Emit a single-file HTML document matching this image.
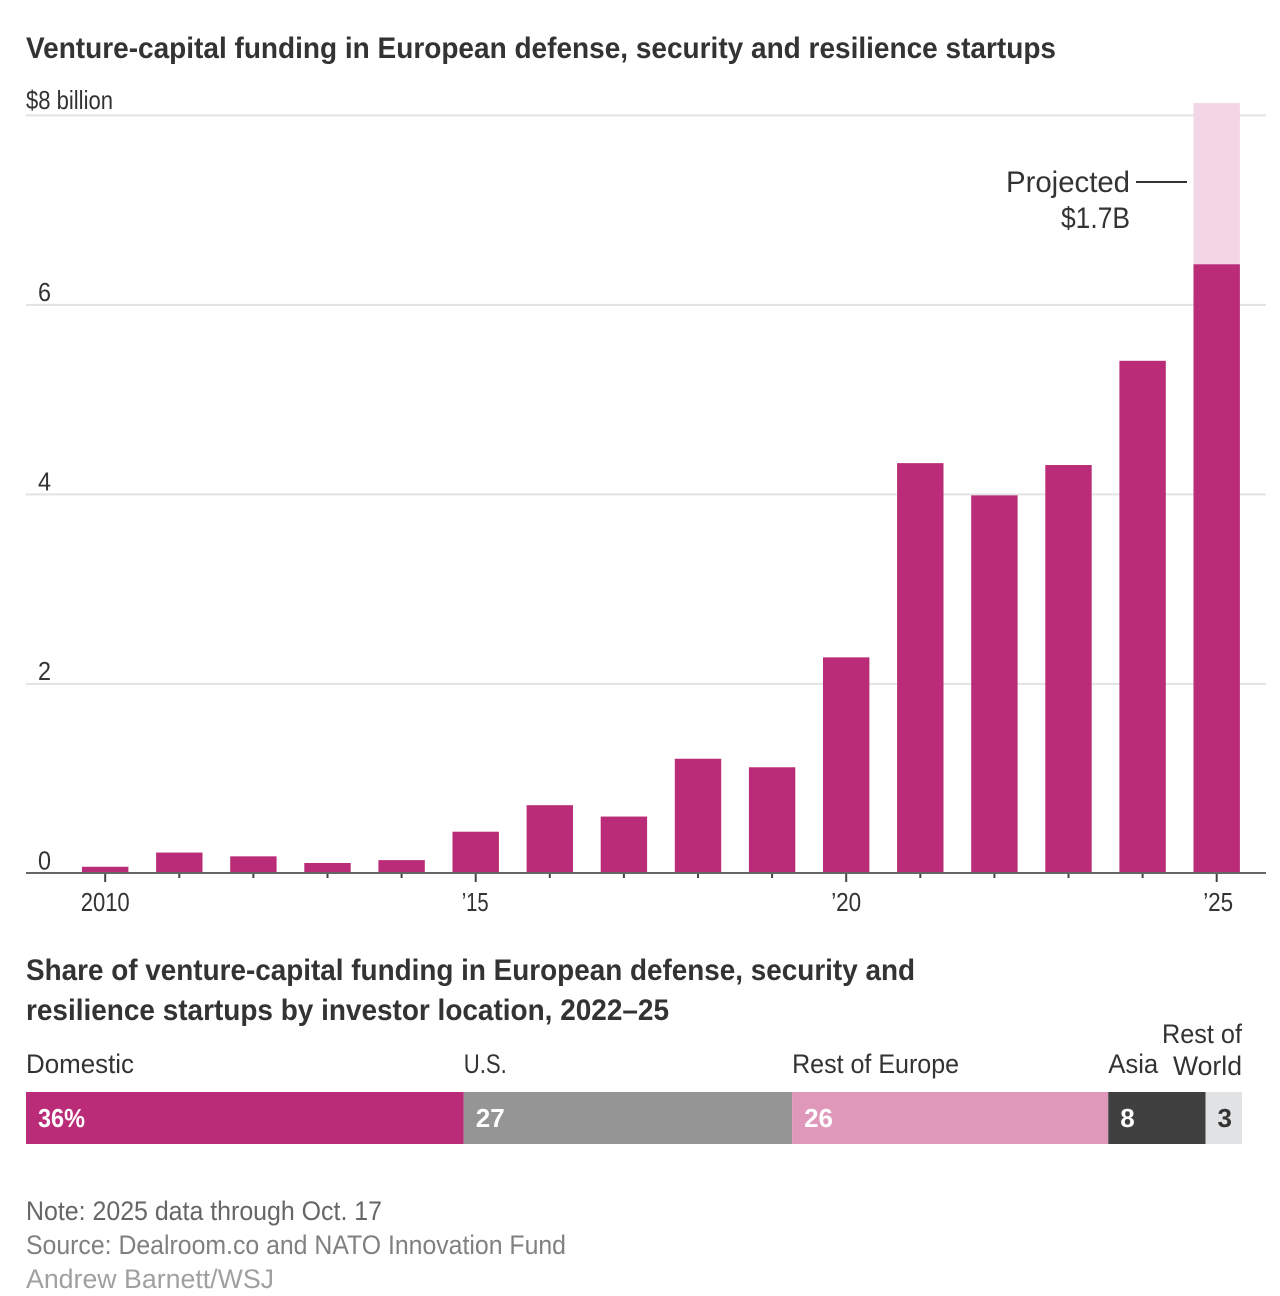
<!DOCTYPE html>
<html lang="en">
<head>
<meta charset="utf-8">
<title>Venture-capital funding in European defense, security and resilience startups</title>
<style>
html,body{margin:0;padding:0;background:#fff;}
svg{display:block;}
text{font-family:"Liberation Sans",sans-serif;}
</style>
</head>
<body>
<svg id="chart" width="1280" height="1296" viewBox="0 0 1280 1296" xmlns="http://www.w3.org/2000/svg">
  <rect x="0" y="0" width="1280" height="1296" fill="#ffffff"/>
  <text x="26" y="58" font-size="30" font-weight="700" fill="#333333" textLength="1030" lengthAdjust="spacingAndGlyphs">Venture-capital funding in European defense, security and resilience startups</text>
  <g id="grid"></g>
  <g id="bars"></g>
  <g id="xaxis"></g>
  <g id="yaxis"></g>
  <text x="1130" y="192" text-anchor="end" font-size="30" fill="#333333" textLength="124" lengthAdjust="spacingAndGlyphs">Projected</text>
  <text x="1130" y="228" text-anchor="end" font-size="30" fill="#333333" textLength="69" lengthAdjust="spacingAndGlyphs">$1.7B</text>
  <line x1="1136" x2="1187" y1="182" y2="182" stroke="#333333" stroke-width="2"/>
  <text x="26" y="980" font-size="30" font-weight="700" fill="#333333" textLength="889" lengthAdjust="spacingAndGlyphs">Share of venture-capital funding in European defense, security and</text>
  <text x="26" y="1020" font-size="30" font-weight="700" fill="#333333" textLength="643" lengthAdjust="spacingAndGlyphs">resilience startups by investor location, 2022–25</text>
  <g id="share"></g>
  <text x="26" y="1220" font-size="27" fill="#666666" textLength="356" lengthAdjust="spacingAndGlyphs">Note: 2025 data through Oct. 17</text>
  <text x="26" y="1254" font-size="27" fill="#808080" textLength="540" lengthAdjust="spacingAndGlyphs">Source: Dealroom.co and NATO Innovation Fund</text>
  <text x="26" y="1288" font-size="27" fill="#a0a0a0" textLength="248" lengthAdjust="spacingAndGlyphs">Andrew Barnett/WSJ</text>
</svg>
<script>
const years = [2010,2011,2012,2013,2014,2015,2016,2017,2018,2019,2020,2021,2022,2023,2024,2025];
const funding = [0.07,0.22,0.18,0.11,0.14,0.44,0.72,0.6,1.21,1.12,2.28,4.33,3.99,4.31,5.41,6.43];
const projected = [0,0,0,0,0,0,0,0,0,0,0,0,0,0,0,1.7];
const yTicks = [0,2,4,6,8];
const yTickLabels = ['0','2','4','6','$8 billion'];
const xTickYears = [2010,2015,2020,2025];
const xTickLabels = ['2010','’15','’20','’25'];
const shareLabels = ['Domestic','U.S.','Rest of Europe','Asia','Rest of World'];
const shareValues = [36,27,26,8,3];
const sharePrinted = ['36%','27','26','8','3'];

const NS = 'http://www.w3.org/2000/svg';
function make(parent, tag, attrs, txt) {
  const el = document.createElementNS(NS, tag);
  for (const k in attrs) el.setAttribute(k, attrs[k]);
  if (txt !== undefined) el.textContent = txt;
  parent.appendChild(el);
  return el;
}
const Y0 = 873.4, Y8 = 115.4;
const yScale = v => Y0 - (Y0 - Y8) * v / 8;
const X0 = 105.2, XSTEP = 74.1, BARW = 46.4;
const xScale = yr => X0 + (yr - years[0]) * XSTEP;

const gridG = document.getElementById('grid');
const yG = document.getElementById('yaxis');
const xG = document.getElementById('xaxis');
const barG = document.getElementById('bars');
const shareG = document.getElementById('share');

yTicks.forEach((t, i) => {
  if (t !== 0) {
    const g = make(gridG, 'line', {x1:26, x2:1266, y1:yScale(t), y2:yScale(t), stroke:'#e3e3e3', 'stroke-width':2});
    
    
  }
  const isTop = i === yTicks.length - 1;
  const lab = make(yG, 'text', {x:isTop ? 26 : 38, y:isTop ? yScale(t) - 6.5 : yScale(t) - 4, 'font-size':26, fill:'#333333'}, yTickLabels[i]);
  if (isTop) {
    lab.setAttribute('textLength', 87);
    lab.setAttribute('lengthAdjust', 'spacingAndGlyphs');
  } else {
    lab.setAttribute('textLength', 13);
    lab.setAttribute('lengthAdjust', 'spacingAndGlyphs');
  }
  
  
});

years.forEach((yr, i) => {
  const cx = xScale(yr);
  const b = make(barG, 'rect', {x:cx - BARW / 2, y:yScale(funding[i]), width:BARW, height:Y0 - yScale(funding[i]), fill:'#ba2c77'});
  
  
  if (projected[i] > 0) {
    const top = yScale(funding[i] + projected[i]);
    const p = make(barG, 'rect', {x:cx - BARW / 2, y:top, width:BARW, height:yScale(funding[i]) - top, fill:'#f3d6e5'});
    
    
  }
  const major = xTickYears.indexOf(yr) >= 0;
  const tick = make(xG, 'line', {x1:cx, x2:cx, y1:873, y2:873 + (major ? 9 : 5), stroke:'#444444', 'stroke-width':2});
  
  
});

const axisLine = make(xG, 'line', {x1:26, x2:1266, y1:873, y2:873, stroke:'#666666', 'stroke-width':2});



const xLabelWidths = [49, 27, 30, 30];
const xLabelNudge = [0, -0.5, 0, 1.5];
xTickYears.forEach((yr, i) => {
  const lab = make(xG, 'text', {x:xScale(yr) + xLabelNudge[i], y:911, 'text-anchor':'middle', 'font-size':26, fill:'#333333', textLength:xLabelWidths[i], lengthAdjust:'spacingAndGlyphs'}, xTickLabels[i]);
  
  
});

const SX = 26, SW = 1216, SY = 1092, SH = 52;
const shareFill = ['#ba2c77','#959595','#df98ba','#404040','#e1e2e4'];
const shareText = ['#ffffff','#ffffff','#ffffff','#ffffff','#333333'];
const total = shareValues.reduce((a, b) => a + b, 0);
let cum = 0;
shareValues.forEach((v, i) => {
  const x = SX + SW * cum / total;
  const w = SW * v / total;
  const seg = make(shareG, 'rect', {x:x, y:SY, width:w, height:SH, fill:shareFill[i]});
  
  
  const val = make(shareG, 'text', {x:x + 12, y:1127, 'font-size':26, 'font-weight':700, fill:shareText[i]}, sharePrinted[i]);
  
  
  if (i === 0) {
    val.setAttribute('textLength', 47);
    val.setAttribute('lengthAdjust', 'spacingAndGlyphs');
  }
  if (i < 4) {
    const lab = make(shareG, 'text', {x:x, y:1073, 'font-size':27, fill:'#333333'}, shareLabels[i]);
    lab.setAttribute('textLength', [108, 43, 167, 50][i]);
    lab.setAttribute('lengthAdjust', 'spacingAndGlyphs');
    
    
  } else {
    const parts = shareLabels[i].split(' ');
    const l1 = make(shareG, 'text', {x:SX + SW, y:1043, 'text-anchor':'end', 'font-size':27, fill:'#333333', textLength:80, lengthAdjust:'spacingAndGlyphs'}, parts[0] + ' ' + parts[1]);
    
    
    const l2 = make(shareG, 'text', {x:SX + SW, y:1075, 'text-anchor':'end', 'font-size':27, fill:'#333333', textLength:69, lengthAdjust:'spacingAndGlyphs'}, parts[2]);
    
    
  }
  cum += v;
});
</script>
</body>
</html>
